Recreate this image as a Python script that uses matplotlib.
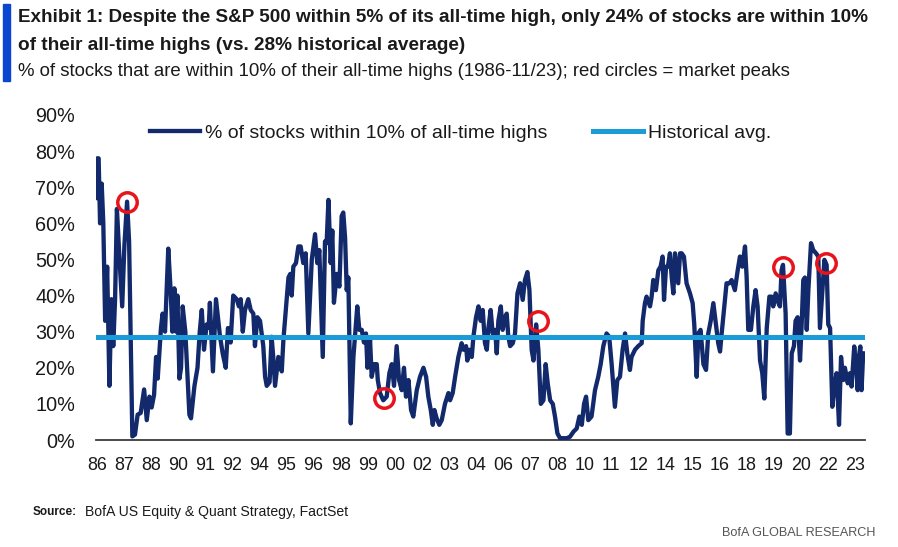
import matplotlib
matplotlib.use("Agg")
from matplotlib import pyplot as plt
from matplotlib.patches import Rectangle

# ... data (decimal year, % of stocks within 10% of ATH)
pct_dates = [
    1986.00, 1986.01, 1986.08, 1986.15, 1986.23, 1986.31, 1986.40, 1986.50, 1986.61, 1986.71,
    1986.80, 1986.89, 1986.98, 1987.10, 1987.24, 1987.35, 1987.48, 1987.58, 1987.74, 1987.87,
    1988.00, 1988.15, 1988.32, 1988.45, 1988.58, 1988.69, 1988.81, 1988.91, 1988.99, 1989.15,
    1989.23, 1989.35, 1989.51, 1989.63, 1989.71, 1989.81, 1989.89, 1989.96, 1990.06, 1990.14,
    1990.22, 1990.35, 1990.55, 1990.63, 1990.80, 1990.95, 1991.06, 1991.16, 1991.27, 1991.40,
    1991.50, 1991.56, 1991.71, 1991.86, 1992.06, 1992.19, 1992.34, 1992.45, 1992.58, 1992.71,
    1992.88, 1992.99, 1993.08, 1993.18, 1993.29, 1993.45, 1993.57, 1993.70, 1993.78, 1993.90,
    1994.03, 1994.19, 1994.28, 1994.36, 1994.50, 1994.60, 1994.68, 1994.77, 1994.93, 1995.10,
    1995.18, 1995.30, 1995.43, 1995.52, 1995.59, 1995.67, 1995.80, 1995.92, 1996.03, 1996.16,
    1996.28, 1996.41, 1996.58, 1996.74, 1996.85, 1996.95, 1997.12, 1997.23, 1997.31, 1997.40,
    1997.51, 1997.59, 1997.67, 1997.81, 1997.94, 1998.05, 1998.13, 1998.22, 1998.30, 1998.38,
    1998.50, 1998.63, 1998.82, 1998.92, 1999.04, 1999.15, 1999.25, 1999.32, 1999.45, 1999.53,
    1999.65, 1999.78, 1999.83, 1999.94, 2000.10, 2000.27, 2000.40, 2000.52, 2000.63, 2000.76,
    2000.88, 2001.01, 2001.12, 2001.22, 2001.34, 2001.47, 2001.58, 2001.75, 2001.91, 2002.08,
    2002.21, 2002.32, 2002.44, 2002.54, 2002.62, 2002.73, 2002.86, 2002.98, 2003.14, 2003.31,
    2003.39, 2003.52, 2003.64, 2003.80, 2003.96, 2004.05, 2004.18, 2004.24, 2004.34, 2004.46,
    2004.54, 2004.67, 2004.79, 2004.90, 2005.00, 2005.11, 2005.20, 2005.28, 2005.39, 2005.49,
    2005.61, 2005.69, 2005.77, 2005.89, 2005.98, 2006.10, 2006.18, 2006.26, 2006.35, 2006.48,
    2006.59, 2006.71, 2006.84, 2006.97, 2007.08, 2007.20, 2007.30, 2007.41, 2007.50, 2007.63,
    2007.74, 2007.86, 2007.99, 2008.10, 2008.20, 2008.32, 2008.45, 2008.56, 2008.68, 2008.81,
    2008.97, 2009.14, 2009.30, 2009.47, 2009.63, 2009.76, 2009.88, 2009.99, 2010.09, 2010.20,
    2010.36, 2010.53, 2010.69, 2010.81, 2010.94, 2011.10, 2011.23, 2011.35, 2011.51, 2011.63,
    2011.76, 2011.89, 2012.01, 2012.12, 2012.25, 2012.33, 2012.50, 2012.66, 2012.83, 2012.88,
    2012.99, 2013.07, 2013.24, 2013.32, 2013.40, 2013.53, 2013.65, 2013.76, 2013.86, 2013.93,
    2014.03, 2014.12, 2014.22, 2014.31, 2014.39, 2014.47, 2014.63, 2014.72, 2014.80, 2014.91,
    2015.04, 2015.21, 2015.34, 2015.42, 2015.54, 2015.62, 2015.73, 2015.87, 2016.00, 2016.11,
    2016.23, 2016.36, 2016.49, 2016.60, 2016.69, 2016.77, 2016.93, 2017.01, 2017.15, 2017.26,
    2017.42, 2017.56, 2017.67, 2017.79, 2017.92, 2018.00, 2018.08, 2018.21, 2018.33, 2018.44,
    2018.54, 2018.66, 2018.77, 2018.87, 2018.99, 2019.12, 2019.23, 2019.31, 2019.43, 2019.56,
    2019.64, 2019.72, 2019.79, 2019.92, 2020.02, 2020.13, 2020.22, 2020.33, 2020.41, 2020.51,
    2020.63, 2020.71, 2020.79, 2020.87, 2020.96, 2021.04, 2021.17, 2021.28, 2021.42, 2021.53,
    2021.61, 2021.69, 2021.83, 2021.94, 2022.02, 2022.11, 2022.22, 2022.32, 2022.43, 2022.55,
    2022.65, 2022.76, 2022.84, 2022.98, 2023.09, 2023.17, 2023.30, 2023.42, 2023.47, 2023.53,
    2023.60, 2023.66, 2023.74,
]
pct_values = [
    67, 78, 78, 60, 71, 60, 33, 48, 15, 39,
    26, 39, 64, 51, 37, 54, 66, 55, 1, 1.5,
    7, 7.5, 14, 5.5, 12, 9, 12.5, 23, 17, 31,
    35, 30, 53, 41, 30, 42, 30, 40, 17, 20,
    37, 30, 7, 6, 15, 20, 30, 36, 25, 32,
    31, 38, 19, 39, 28.6, 24, 20, 31, 27, 40,
    39, 37, 39, 30, 36, 39, 36, 35, 26, 34,
    33, 26, 17.5, 15, 16, 28.6, 23, 15, 23, 19,
    27.7, 36, 45, 46, 40, 48, 49, 53.6, 53.6, 49,
    51.7, 29.5, 50, 57, 49, 52.6, 23, 55, 54.5, 66.5,
    49, 58, 38, 46, 42.5, 62, 63, 56, 41.5, 45,
    4.6, 23, 37, 30.5, 30.5, 27, 29.5, 20, 27.7, 17.5,
    21, 21, 16.6, 13, 11, 12, 18.5, 21, 15, 26,
    16.6, 13.8, 20, 12, 16.6, 8.3, 6.5, 13.8, 17.5, 20,
    17.5, 12, 8.3, 4.2, 8.3, 6, 4.2, 5.5, 10, 13,
    11, 13, 17.5, 23, 26.8, 25, 26, 22, 25, 23,
    28.6, 34, 37, 33, 36, 26.8, 25, 31, 36, 29.5,
    30.5, 24, 33, 37, 30.5, 34, 35, 28.6, 26, 26.8,
    29.5, 40.6, 43.4, 38.8, 44.3, 46.5, 41.5, 25, 22, 32,
    25, 10, 11, 21, 15.7, 11, 10, 6.5, 1.8, 0.5,
    0.5, 0.5, 0.9, 2.3, 3.2, 6.5, 4.2, 10, 12, 5.5,
    6.5, 13.8, 17.5, 21, 26, 29.5, 28.6, 21, 9.2, 16.6,
    17.5, 25, 29.5, 24, 19.4, 23, 25, 26, 26.8, 33,
    37.9, 39.7, 37, 39.7, 44.3, 41.5, 47, 48, 50.8, 38.8,
    48, 48, 51.7, 45, 40.6, 51.7, 43.4, 51.7, 51.7, 50.8,
    43.4, 40.6, 37.9, 32, 17.5, 29.5, 30.5, 21, 19.4, 29.5,
    33, 37.9, 32, 26.8, 24.5, 29.5, 38.8, 43.4, 43.4, 44.3,
    41.5, 47, 50.8, 48, 53.6, 45, 30.5, 30.5, 37, 41.5,
    37, 22, 18.5, 11.5, 31, 39.7, 39.7, 37, 40.6, 38,
    37, 47, 48.5, 35, 1.8, 1.8, 24, 26, 33, 34,
    22, 32, 44.3, 45, 30.5, 41.5, 54.5, 52.6, 51.7, 50.8,
    31, 38, 49.9, 48.5, 32, 31, 9.2, 14.8, 18.5, 4.2,
    23, 16.6, 20, 15.7, 18.5, 14.8, 25.9, 18.5, 13.8, 23,
    25.9, 13.8, 24,
]

hist_avg = 28.4

# market peaks (red circles)
peak_dates = [1987.47, 2000.15, 2007.70, 2019.77, 2021.93]
peak_values = [66, 11.5, 33, 48, 49]

xtick_labels = ["86", "87", "88", "90", "91", "92", "94", "95", "96", "98",
                "99", "00", "02", "03", "04", "06", "07", "08", "10", "11",
                "12", "14", "15", "16", "18", "19", "20", "22", "23"]
ytick_labels = ["0%", "10%", "20%", "30%", "40%", "50%", "60%", "70%", "80%", "90%"]

series_label = "% of stocks within 10% of all-time highs"
avg_label = "Historical avg."

NAVY = "#12296b"
LIGHT = "#1b9bd7"
RED = "#e8141b"
TXT = "#1a1a1a"

plt.rcParams["font.family"] = ["Liberation Sans", "DejaVu Sans"]

W, H = 898, 547
fig = plt.figure(figsize=(W / 100, H / 100), dpi=100)
renderer = fig.canvas.get_renderer()


def fx(px):
    return px / W


def fy(py):
    return 1 - py / H


def fit_size(s, width_px, weight="normal", start=14):
    # font size (pt) that gives the text the wanted width in pixels
    t = fig.text(0, 0, s, fontsize=start, fontweight=weight)
    w = t.get_window_extent(renderer).width
    t.remove()
    return start * width_px / w


def fitted_text(x, y, s, width_px, weight="normal", **kw):
    return fig.text(fx(x), fy(y), s, fontsize=fit_size(s, width_px, weight),
                    fontweight=weight, va="center", **kw)


ax = fig.add_axes([fx(96), fy(440), (865 - 96) / W, 325 / H])

ax.plot(pct_dates, pct_values, color=NAVY, lw=3.1, solid_joinstyle="round",
        label=series_label, zorder=3)
ax.axhline(hist_avg, color=LIGHT, lw=3.6, label=avg_label, zorder=4)
ax.plot(peak_dates, peak_values, "o", ms=14, mfc="none", mec=RED, mew=2.5, zorder=5)

ax.set_xlim(1985.95, 2023.83)
ax.set_ylim(0, 90)

# one tick every 16 months from Jan 1986
xticks = [1986 + 16 * k / 12 for k in range(len(xtick_labels))]
ax.set_xticks(xticks)
ax.set_xticklabels(xtick_labels)
ax.set_yticks(range(0, 91, 10))
ax.set_yticklabels(ytick_labels)
ax.tick_params(length=0, colors=TXT)
ax.tick_params(axis="x", labelsize=fit_size("86", 20), pad=12)
ax.tick_params(axis="y", labelsize=fit_size("90%", 40), pad=15)

for s in ["top", "right", "left"]:
    ax.spines[s].set_visible(False)
ax.spines["bottom"].set_color("#3a3a3a")
ax.spines["bottom"].set_linewidth(1.3)
ax.spines["bottom"].set_zorder(2)

# legend sized to the reference widths
leg_fs = fit_size(series_label, 343)
em = leg_fs * 100 / 72
leg = ax.legend(loc="center left", bbox_to_anchor=(fx(150), fy(133)),
                bbox_transform=fig.transFigure, ncol=2, frameon=False,
                fontsize=leg_fs, handlelength=50 / em, handletextpad=5 / em,
                columnspacing=46 / em, borderpad=0, borderaxespad=0)
for t in leg.get_texts():
    t.set_color(TXT)

# ... header
fig.patches.append(Rectangle((fx(3), fy(81)), 7 / W, 77 / H,
                             transform=fig.transFigure, color="#0a46cf"))
fitted_text(18, 18, "Exhibit 1: Despite the S&P 500 within 5% of its all-time high, "
            "only 24% of stocks are within 10%", 850, weight="bold", color=TXT)
fitted_text(18, 45, "of their all-time highs (vs. 28% historical average)", 447,
            weight="bold", color=TXT)
fitted_text(18, 71, "% of stocks that are within 10% of their all-time highs "
            "(1986-11/23); red circles = market peaks", 780, color=TXT)

# ... footer
fitted_text(33, 512, "Source:", 44, weight="bold", color=TXT)
fitted_text(85, 512, "BofA US Equity & Quant Strategy, FactSet", 263, color=TXT)
t = fitted_text(722, 533, "BofA GLOBAL RESEARCH", 155, color="#555555")

fig.savefig("out.png", dpi=100)
